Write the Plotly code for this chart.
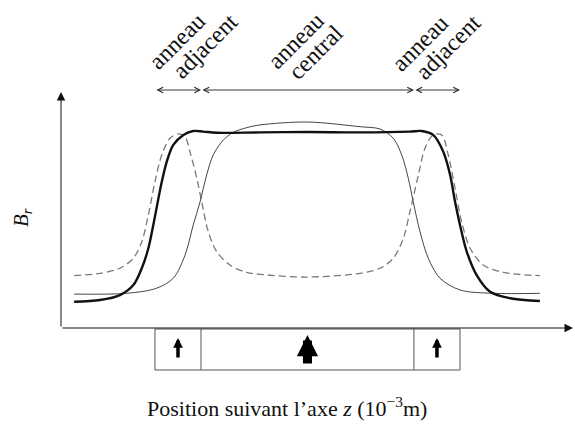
import plotly.graph_objects as go

# ---------------- data (z in mm, B_r in arbitrary units) ----------------
thick_z = [-9.91, -8.81, -7.96, -7.39, -7.03, -6.75, -6.54, -6.35, -6.18, -5.97,
           -5.69, -5.26, -4.84, -4.41, -3.84, -2.0, 0.0, 2.26, 4.38, 4.88,
           5.37, 5.80, 6.09, 6.30, 6.51, 6.80, 7.22, 7.79, 8.64, 9.91]
thick_b = [0.134, 0.143, 0.168, 0.219, 0.305, 0.407, 0.526, 0.644, 0.746, 0.848,
           0.934, 0.985, 1.005, 1.002, 0.996, 0.998, 1.0, 0.998, 1.002, 1.005,
           0.985, 0.899, 0.781, 0.644, 0.526, 0.389, 0.270, 0.185, 0.152, 0.138]

dashed_z = [-9.91, -8.81, -7.96, -7.39, -7.03, -6.75, -6.47, -6.18, -5.83, -5.48,
            -5.19, -4.98, -4.69, -4.48, -4.20, -3.84, -3.28, -2.57, -2.0, 0.0,
            2.26, 3.11, 3.67, 4.10, 4.38, 4.74, 5.02, 5.37, 5.73, 6.01,
            6.30, 6.58, 6.94, 7.50, 8.35, 9.91]
dashed_b = [0.267, 0.279, 0.305, 0.356, 0.440, 0.577, 0.746, 0.883, 0.968, 0.990,
            0.976, 0.899, 0.764, 0.644, 0.491, 0.389, 0.321, 0.284, 0.274, 0.260,
            0.279, 0.305, 0.356, 0.458, 0.593, 0.781, 0.917, 0.985, 0.985, 0.883,
            0.713, 0.542, 0.407, 0.321, 0.284, 0.267]

thin_z = [-9.91, -7.67, -6.40, -5.69, -5.19, -4.84, -4.55, -4.27, -3.99, -3.56,
          -3.14, -2.57, -2.0, 0.0, 2.26, 3.11, 3.67, 4.03, 4.31, 4.52,
          4.81, 5.16, 5.66, 6.51, 7.93, 9.91]
thin_b = [0.173, 0.177, 0.203, 0.254, 0.372, 0.526, 0.644, 0.781, 0.883, 0.959,
          0.998, 1.022, 1.036, 1.051, 1.027, 1.015, 0.968, 0.883, 0.764, 0.644,
          0.491, 0.356, 0.254, 0.194, 0.177, 0.177]

ring_edges = [-6.47, -4.51, 4.55, 6.51]
ring_words = [["anneau", "adjacent"], ["anneau", "central"], ["anneau", "adjacent"]]
magnet_strength = ["small", "big", "small"]

x_title = "Position suivant l’axe <i>z</i> (10<sup>−3</sup>m)"
y_title = "<i>B</i><sub><i>r</i></sub>"

# ---------------- layout helpers ----------------
W, H = 575, 430
PXMM = 23.5      # pixels per mm
X0PX = 307.0     # pixel column of z = 0
Y0PX = 328.0     # pixel row of B = 0
PXB = 196.0      # pixels per unit of B

xr = [(0 - X0PX) / PXMM, (W - X0PX) / PXMM]
yr = [(Y0PX - H) / PXB, Y0PX / PXB]


def zx(px):
    return (px - X0PX) / PXMM


def by(py):
    return (Y0PX - py) / PXB


def pp(px, py):
    return px / W, 1 - py / H


FONT = "Liberation Serif"

fig = go.Figure()
fig.add_trace(go.Scatter(x=dashed_z, y=dashed_b, mode="lines",
                         line=dict(color="#7a7a7a", width=1.3, dash="7px,4px",
                                   shape="spline", smoothing=0.9),
                         hoverinfo="skip", showlegend=False))
fig.add_trace(go.Scatter(x=thin_z, y=thin_b, mode="lines",
                         line=dict(color="#444444", width=1.0,
                                   shape="spline", smoothing=0.9),
                         hoverinfo="skip", showlegend=False))
fig.add_trace(go.Scatter(x=thick_z, y=thick_b, mode="lines",
                         line=dict(color="#111111", width=2.4,
                                   shape="spline", smoothing=0.9),
                         hoverinfo="skip", showlegend=False))

annotations = []
shapes = []

# axes with arrow heads
ax_x0 = zx(61)
annotations.append(dict(x=ax_x0, y=by(92), ax=ax_x0, ay=0, xref="x", yref="y",
                        axref="x", ayref="y", showarrow=True, arrowhead=2,
                        arrowsize=1.7, arrowwidth=1, arrowcolor="#111", text=""))
annotations.append(dict(x=zx(573), y=0, ax=ax_x0, ay=0, xref="x", yref="y",
                        axref="x", ayref="y", showarrow=True, arrowhead=2,
                        arrowsize=1.7, arrowwidth=1, arrowcolor="#111", text=""))

# magnet box
box_top, box_bot = by(329), by(370)
shapes.append(dict(type="rect", xref="x", yref="y", x0=ring_edges[0], x1=ring_edges[3],
                   y0=box_bot, y1=box_top, line=dict(color="#555", width=1)))
for e in ring_edges[1:3]:
    shapes.append(dict(type="line", xref="x", yref="y", x0=e, x1=e, y0=box_bot, y1=box_top,
                       line=dict(color="#555", width=1)))

# magnetisation arrows in each ring
for i, s in enumerate(magnet_strength):
    c = (ring_edges[i] + ring_edges[i + 1]) / 2
    if s == "small":
        annotations.append(dict(x=c, y=by(338), ax=c, ay=by(359), xref="x", yref="y",
                                axref="x", ayref="y", showarrow=True, arrowhead=2,
                                arrowsize=0.55, arrowwidth=3.5, arrowcolor="#000", text=""))
    else:
        annotations.append(dict(x=c, y=by(335), ax=c, ay=by(365), xref="x", yref="y",
                                axref="x", ayref="y", showarrow=True, arrowhead=2,
                                arrowsize=0.47, arrowwidth=9, arrowcolor="#000", text=""))

# double arrows above the rings
for i in range(3):
    annotations.append(dict(x=ring_edges[i + 1], y=by(90), ax=ring_edges[i], ay=by(90),
                            xref="x", yref="y", axref="x", ayref="y", showarrow=True,
                            arrowside="end+start", arrowhead=5, startarrowhead=5,
                            arrowsize=1.2, startarrowsize=1.2, arrowwidth=0.9,
                            arrowcolor="#222", text=""))

# rotated ring labels
word_centers = [[(177, 41), (205, 46)], [(295.5, 41), (316, 52)],
                [(420, 43), (448, 47)]]
for words, cents in zip(ring_words, word_centers):
    for w, (cx, cy) in zip(words, cents):
        px_, py_ = pp(cx, cy)
        annotations.append(dict(x=px_, y=py_, xref="paper", yref="paper", text=w,
                                showarrow=False, textangle=-45, xanchor="center",
                                yanchor="middle", font=dict(family=FONT, size=24, color="#111")))

# axis titles
tx, ty = pp(287, 407)
annotations.append(dict(x=tx, y=ty, xref="paper", yref="paper", text=x_title,
                        showarrow=False, xanchor="center", yanchor="middle",
                        font=dict(family=FONT, size=22, color="#111")))
tx, ty = pp(22, 218)
annotations.append(dict(x=tx, y=ty, xref="paper", yref="paper", text=y_title,
                        showarrow=False, textangle=-90, xanchor="center", yanchor="middle",
                        font=dict(family=FONT, size=21, color="#111")))

fig.update_layout(
    width=W, height=H, margin=dict(l=0, r=0, t=0, b=0),
    paper_bgcolor="white", plot_bgcolor="white",
    xaxis=dict(range=xr, visible=False, fixedrange=True),
    yaxis=dict(range=yr, visible=False, fixedrange=True),
    annotations=annotations, shapes=shapes, showlegend=False,
)

fig.write_html("out.html", config={"displayModeBar": False, "staticPlot": True},
               post_script="document.body.style.margin='0';")
